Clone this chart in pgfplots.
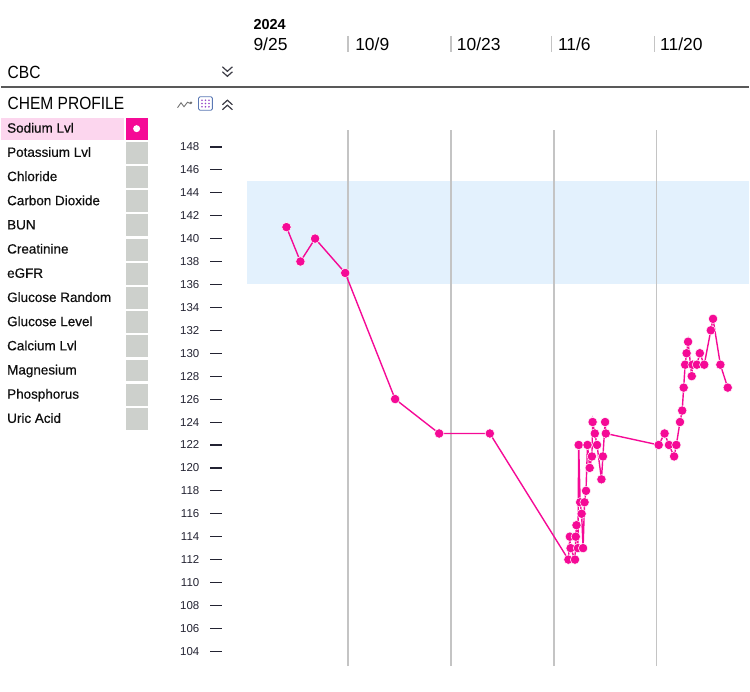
\documentclass[border=0pt]{standalone}
\usepackage{pgfplots}
\pgfplotsset{compat=1.18}
\usepackage{pgfplotstable}
\usepackage{fontspec}
\setmainfont{Liberation Sans}
\newfontfamily\narrowfont[FakeStretch=0.88]{Liberation Sans}
\newfontfamily\listfont[FakeBold=0.5]{Liberation Sans}
\definecolor{mag}{RGB}{245,10,150}
\definecolor{band}{RGB}{227,241,253}
\definecolor{gridc}{RGB}{196,196,196}
\definecolor{rowpink}{RGB}{252,214,238}
\definecolor{boxgray}{RGB}{205,208,204}
\definecolor{txt}{RGB}{15,15,15}
\definecolor{tickc}{RGB}{35,35,50}
\definecolor{iconc}{RGB}{60,60,70}
\definecolor{iconblue}{RGB}{90,120,180}
\definecolor{iconpurple}{RGB}{150,70,200}

\pgfplotstableread{
d v
5.6 141
7.5 138
9.5 140
13.6 137
20.4 126
26.4 123
33.3 123
44.0 112
44.2 114
44.3 113
44.9 112
45.0 114
45.1 115
45.3 113
45.4 122
45.6 117
45.8 116
46.0 113
46.2 117
46.4 118
46.6 122
46.9 120
47.2 121
47.3 124
47.6 123
47.9 122
48.5 119
48.7 121
49.0 124
49.1 123
56.3 122
57.1 123
57.7 122
58.4 121
58.7 122
59.2 124
59.5 125
59.7 127
59.9 129
60.1 130
60.3 131
60.8 128
60.9 129
61.5 129
61.9 130
62.5 129
63.4 132
63.7 133
64.7 129
65.7 127
}\sodium

\pgfplotstableread{
d v
0.27 136
68.6 136
68.6 145
0.27 145
}\normalband

\begin{document}
\begin{tikzpicture}
\path (0pt,0pt) rectangle (750pt,-693pt);

% ---- header
\node[anchor=base west, inner sep=0pt, font=\bfseries\fontsize{14.5}{16}\selectfont] at (253pt,-29.3pt) {2024};
\foreach \x/\lab in {253/9\slash 25, 355/10\slash 9, 457/10\slash 23, 558.3/11\slash 6, 660.7/11\slash 20}{
  \node[anchor=base west, inner sep=0pt, font=\fontsize{17.5}{20}\selectfont] at (\x pt,-50.7pt) {\lab};
}
\foreach \x in {348,451,552,655}{
  \draw[gridc, line width=1.5pt] (\x pt,-36pt) -- (\x pt,-52pt);
}
\node[anchor=base west, inner sep=0pt, font=\narrowfont\fontsize{17.7}{20}\selectfont] at (6.5pt,-78.3pt) {CBC};
\draw[iconc, line width=1.2pt] (222pt,-67pt) -- (227pt,-71.5pt) -- (232pt,-67pt);
\draw[iconc, line width=1.2pt] (222pt,-72pt) -- (227pt,-76.5pt) -- (232pt,-72pt);
\draw[black!65, line width=2pt] (0pt,-87.5pt) -- (750pt,-87.5pt);
\node[anchor=base west, inner sep=0pt, font=\narrowfont\fontsize{17.7}{20}\selectfont] at (6.5pt,-110pt) {CHEM PROFILE};
% icons
\draw[black!55, line width=0.9pt] (177pt,-108pt) -- (180.5pt,-103pt) -- (183.5pt,-107pt) -- (187pt,-102.5pt) -- (190.5pt,-104pt);
\fill[black!55] (190.5pt,-103pt) circle (1.3pt);
\draw[iconblue, line width=0.9pt, rounded corners=1.5pt] (198pt,-97pt) rectangle (212pt,-110.5pt);
\foreach \i in {0,1,2}{\foreach \j in {0,1,2}{
  \pgfmathsetmacro\cx{201.5+3.5*\i}\pgfmathsetmacro\cy{-100.5-3.3*\j}
  \fill[iconpurple] (\cx pt,\cy pt) circle (0.9pt);
}}
\draw[iconc, line width=1.2pt] (222pt,-105pt) -- (227pt,-100.5pt) -- (232pt,-105pt);
\draw[iconc, line width=1.2pt] (222pt,-110pt) -- (227pt,-105.5pt) -- (232pt,-110pt);

% ---- left list
\fill[rowpink] (0pt,-118pt) rectangle (123pt,-140pt);
\fill[mag] (125pt,-118pt) rectangle (147pt,-140pt);
\fill[white] (136pt,-129pt) circle (3.5pt);
\foreach \i in {1,...,12}{
  \pgfmathsetmacro\yt{-(118+24.25*\i)}
  \pgfmathsetmacro\yb{-(118+24.25*\i+22)}
  \fill[boxgray] (125pt,\yt pt) rectangle (147pt,\yb pt);
}
\foreach \n [count=\i from 0] in {Sodium Lvl,Potassium Lvl,Chloride,Carbon Dioxide,BUN,Creatinine,eGFR,Glucose Random,Glucose Level,Calcium Lvl,Magnesium,Phosphorus,Uric Acid}{
  \pgfmathsetmacro\ybase{-(118+24.25*\i+15)}
  \node[anchor=base west, inner sep=0pt, text=txt, font=\listfont\fontsize{13.5}{15}\selectfont] at (6pt,\ybase pt) {\n};
}

% ---- chart
\begin{axis}[
  set layers,
  at={(247pt,-668pt)}, anchor=south west,
  scale only axis, width=503pt, height=538pt,
  xmin=0.27, xmax=68.6, ymin=102.7, ymax=149.5,
  axis line style={draw=none},
  major tick length=0pt,
  xtick={14,28,42,56}, xticklabels={},
  xmajorgrids, grid style={gridc, line width=1.6pt},
  ytick={104,106,...,148},
  /pgf/number format/assume math mode=true,
  yticklabel={\makebox[20pt][r]{\pgfmathprintnumber{\tick}}\hspace{11pt}\rule[3.3pt]{12pt}{1.2pt}},
  yticklabel style={anchor=east, inner sep=0pt, xshift=-25pt, text=tickc, font=\fontsize{11.5}{12}\selectfont},
  clip=false,
]
\addplot[draw=none, fill=band, on layer=axis background, forget plot] table[x=d, y=v] {\normalband};
\addplot[color=mag, line width=1.4pt, mark=*, mark size=4.7pt,
  mark options={solid, fill=mag, draw=white, line width=0.5pt}] table[x=d, y=v] {\sodium};
\end{axis}
\end{tikzpicture}
\end{document}
